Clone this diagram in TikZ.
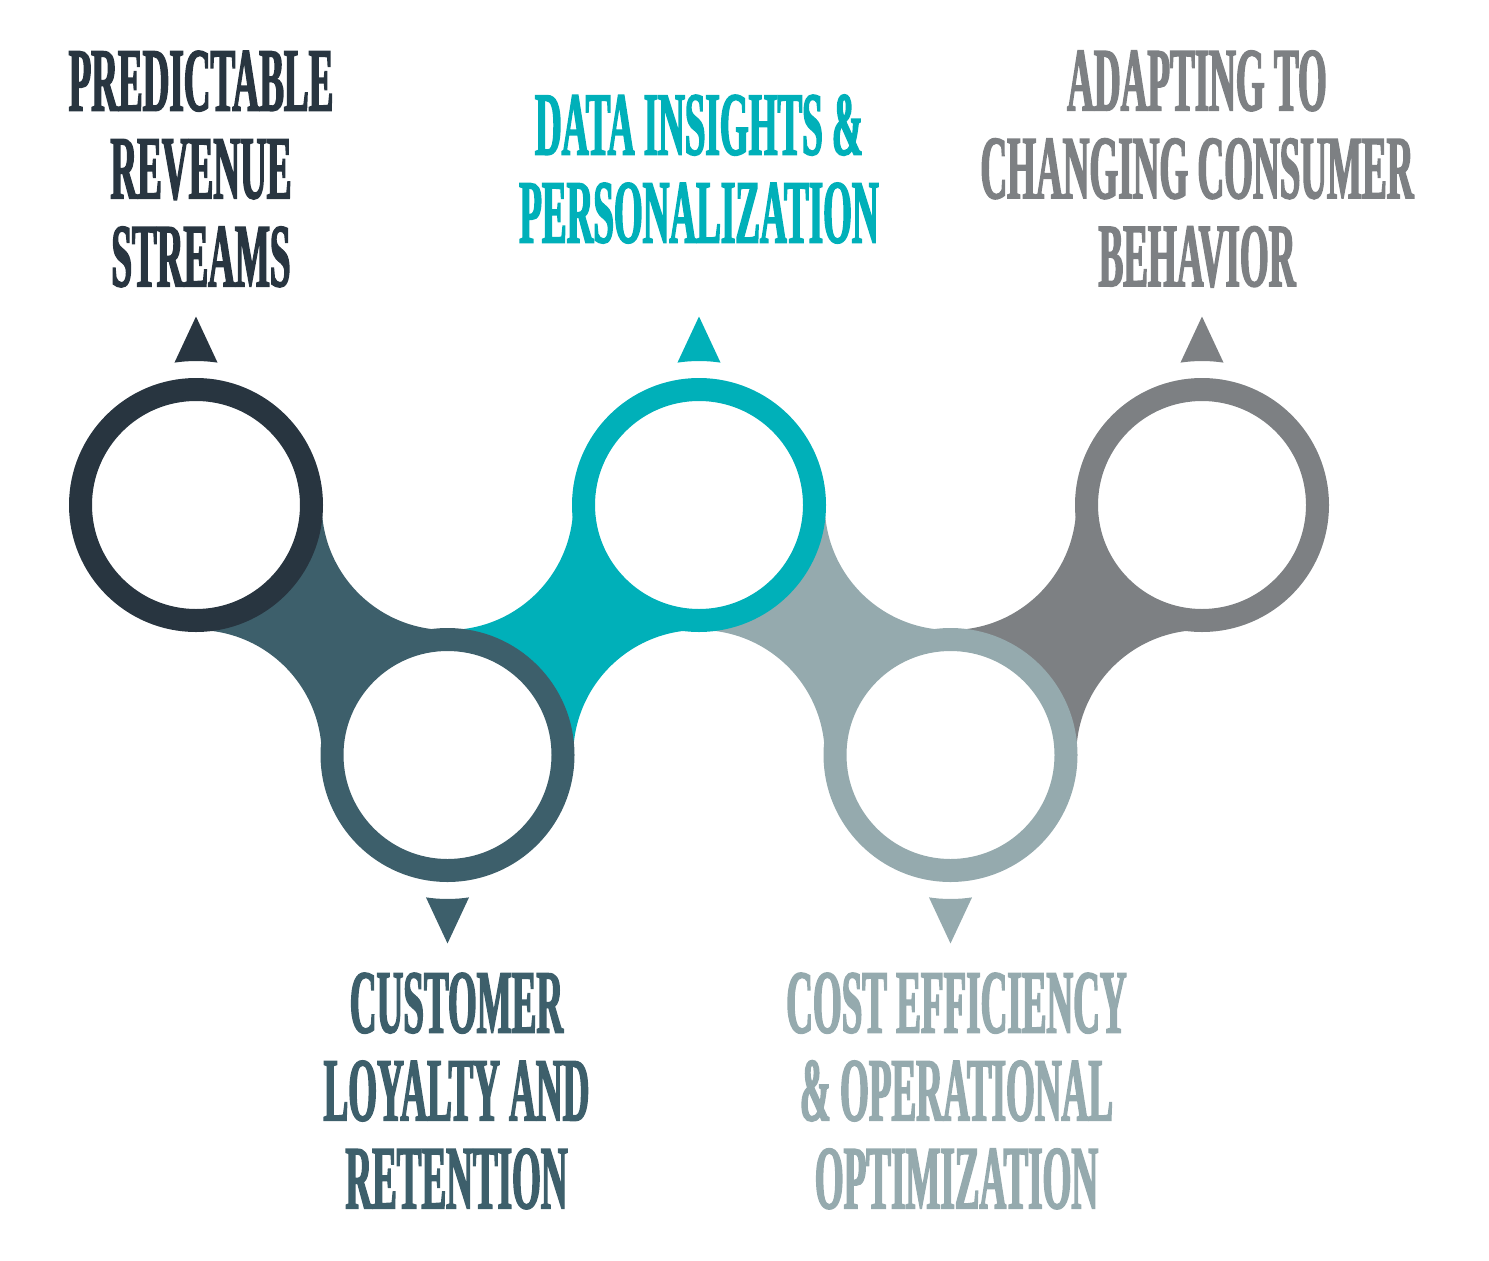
\documentclass[tikz,border=0pt]{standalone}
\usepackage{fontspec}
\newfontfamily\capfont[FakeStretch=0.41, BoldFeatures={FakeBold=1.6}]{Liberation Serif}
\usetikzlibrary{positioning}
\usetikzlibrary{calc}
\usetikzlibrary{backgrounds}
\definecolor{c1}{HTML}{283540}
\definecolor{c2}{HTML}{3D5F6B}
\definecolor{c3}{HTML}{00B0B9}
\definecolor{c4}{HTML}{95AAAE}
\definecolor{c5}{HTML}{7D8083}
\newcommand{\tipbase}{1.44}
\newcommand{\tipapex}{1.885}
\newcommand{\tiphalf}{8.6}
\newcommand{\labeldist}{3.36cm}
\tikzstyle{ring} = [circle, fill=white, line width=2.3mm, minimum size=23.1mm, inner sep=0pt]
\tikzstyle{heading} = [font=\capfont\bfseries\fontsize{25.7}{25}\selectfont, align=center, inner sep=0pt]

\begin{document}
\begin{tikzpicture}
	\useasboundingbox (0,0) rectangle (14.89,12.60);

	\node (r1) [ring, draw=c1] at (1.96,7.55) {};
	\node (r2) [ring, draw=c2] at (4.475,5.05) {};
	\node (r3) [ring, draw=c3] at (6.99,7.55) {};
	\node (r4) [ring, draw=c4] at (9.505,5.05) {};
	\node (r5) [ring, draw=c5] at (12.02,7.55) {};

	% joints between the rings
	\begin{scope}[on background layer]
		\foreach \a/\b/\col/\side in {r1/r2/c2/right, r2/r3/c3/left, r3/r4/c4/right, r4/r5/c5/left}
			\fill[\col] ($(\a.center)!.5!(\a.center -| \b.center)$)
				to[bend \side=45] ($(\a.center -| \b.center)!.5!(\b.center)$)
				to[bend \side=45] ($(\b.center)!.5!(\b.center -| \a.center)$)
				to[bend \side=45] ($(\b.center -| \a.center)!.5!(\a.center)$)
				to[bend \side=45] ($(\a.center)!.5!(\a.center -| \b.center)$) -- cycle;
	\end{scope}

	% pointers
	\foreach \r/\col/\ang in {r1/c1/90, r2/c2/270, r3/c3/90, r4/c4/270, r5/c5/90}
		\fill[\col] ($(\r.center)+({\ang+\tiphalf}:\tipbase)$)
			arc[start angle=\ang+\tiphalf, end angle=\ang-\tiphalf, radius=\tipbase]
			-- ($(\r.center)+(\ang:\tipapex)$) -- cycle;

	\node (t1) [heading, c1, above=\labeldist of r1.center, anchor=center, xshift=0.05cm] {PREDICTABLE\\REVENUE\\STREAMS};
	\node (t2) [heading, c2, below=\labeldist of r2.center, anchor=center, xshift=0.09cm] {CUSTOMER\\LOYALTY AND\\RETENTION};
	\node (t3) [heading, c3, above=\labeldist of r3.center, anchor=center] {DATA INSIGHTS \&\\PERSONALIZATION};
	\node (t4) [heading, c4, below=\labeldist of r4.center, anchor=center, xshift=0.06cm] {COST EFFICIENCY\\\& OPERATIONAL\\OPTIMIZATION};
	\node (t5) [heading, c5, above=\labeldist of r5.center, anchor=center, xshift=-0.05cm] {ADAPTING TO\\CHANGING CONSUMER\\BEHAVIOR};

\end{tikzpicture}
\end{document}
